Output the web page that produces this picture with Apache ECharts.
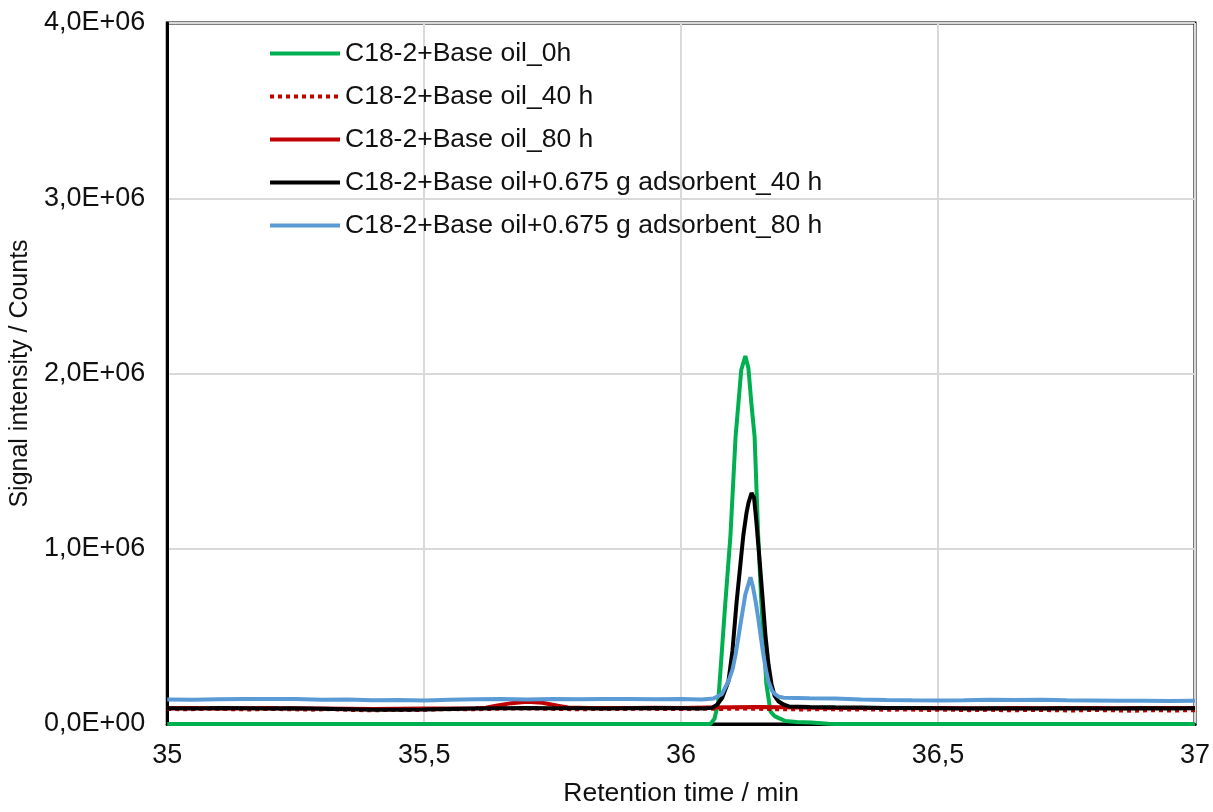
<!DOCTYPE html>
<html>
<head>
<meta charset="utf-8">
<script src="https://cdn.jsdelivr.net/npm/echarts@6/dist/echarts.min.js"></script>
<style>
html,body{margin:0;padding:0;background:#fff;}
#chart{width:1213px;height:812px;}
</style>
</head>
<body>
<div id="chart"></div>
<script>
// ---- Data (retention time in min, signal in counts) ----
const seriesNames = [
  'C18-2+Base oil_0h',
  'C18-2+Base oil_40 h',
  'C18-2+Base oil_80 h',
  'C18-2+Base oil+0.675 g adsorbent_40 h',
  'C18-2+Base oil+0.675 g adsorbent_80 h'
];

const xTicks = [35, 35.5, 36, 36.5, 37];
const yTicks = [0, 1000000, 2000000, 3000000, 4000000];

const oil0h = [
  [35.00,0],[35.50,0],[36.00,0],[36.057,0],[36.065,30000],[36.072,120000],[36.077,320000],
  [36.085,650000],[36.096,1075000],[36.106,1640000],[36.117,2020000],[36.125,2100000],
  [36.131,2030000],[36.137,1820000],[36.143,1640000],[36.150,1075000],[36.156,700000],
  [36.160,510000],[36.166,226000],[36.174,70000],[36.182,45000],[36.189,35000],
  [36.203,17000],[36.225,12000],[36.253,8000],[36.286,1000],[36.300,0],[36.50,0],[37.00,0]
];

const oil40h = [
  [35.00,86000],[35.04,84000],[35.08,87000],[35.12,85000],[35.16,83000],[35.20,86000],
  [35.24,84000],[35.28,82000],[35.32,85000],[35.36,80000],[35.40,78000],[35.44,81000],
  [35.48,79000],[35.52,83000],[35.56,85000],[35.60,84000],[35.64,87000],[35.68,89000],
  [35.72,88000],[35.76,86000],[35.80,84000],[35.84,86000],[35.88,85000],[35.92,87000],
  [35.96,86000],[36.00,85000],[36.04,87000],[36.08,86000],[36.12,88000],[36.16,86000],
  [36.20,84000],[36.24,83000],[36.28,85000],[36.32,82000],[36.36,84000],[36.40,81000],
  [36.44,83000],[36.48,80000],[36.52,82000],[36.56,79000],[36.60,81000],[36.64,78000],
  [36.68,80000],[36.72,79000],[36.76,77000],[36.80,80000],[36.84,78000],[36.88,76000],
  [36.92,79000],[36.96,77000],[37.00,79000]
];

const oil80h = [
  [35.00,90000],[35.05,91000],[35.10,89000],[35.15,90000],[35.20,91000],[35.25,89000],
  [35.30,88000],[35.35,87000],[35.40,86000],[35.45,87000],[35.50,88000],[35.55,89000],
  [35.60,90000],[35.62,93000],[35.64,104000],[35.67,119000],[35.70,127000],[35.73,121000],
  [35.76,104000],[35.78,94000],[35.82,92000],[35.86,91000],[35.90,92000],[35.95,93000],
  [36.00,92000],[36.05,94000],[36.10,96000],[36.15,97000],[36.20,95000],[36.25,93000],
  [36.30,92000],[36.35,91000],[36.40,92000],[36.45,90000],[36.50,91000],[36.55,90000],
  [36.60,89000],[36.65,91000],[36.70,90000],[36.75,92000],[36.80,91000],[36.85,90000],
  [36.90,92000],[36.95,91000],[37.00,92000]
];

const ads40h = [
  [35.00,90000],[35.05,89000],[35.10,91000],[35.15,90000],[35.20,88000],[35.25,90000],
  [35.30,87000],[35.35,84000],[35.40,81000],[35.45,82000],[35.50,83000],[35.55,86000],
  [35.60,88000],[35.65,90000],[35.70,91000],[35.75,90000],[35.80,90000],[35.85,89000],
  [35.90,90000],[35.95,91000],[36.00,90000],[36.04,89000],[36.06,92000],[36.07,110000],
  [36.08,150000],[36.092,243000],[36.100,420000],[36.108,696000],[36.115,900000],
  [36.121,1075000],[36.127,1200000],[36.131,1260000],[36.137,1318000],[36.142,1290000],
  [36.146,1170000],[36.150,1030000],[36.154,887000],[36.159,700000],[36.164,510000],
  [36.170,340000],[36.176,226000],[36.182,160000],[36.189,130000],[36.20,110000],
  [36.21,100000],[36.25,97000],[36.30,95000],[36.35,94000],[36.40,92000],[36.45,91000],
  [36.50,90000],[36.55,89000],[36.60,90000],[36.65,88000],[36.70,89000],[36.75,90000],
  [36.80,88000],[36.85,89000],[36.90,90000],[36.95,89000],[37.00,90000]
];

const ads80h = [
  [35.00,140000],[35.05,139000],[35.10,141000],[35.15,142000],[35.20,143000],[35.25,142000],
  [35.30,138000],[35.35,140000],[35.40,136000],[35.45,137000],[35.50,134000],[35.55,138000],
  [35.60,141000],[35.65,143000],[35.70,140000],[35.75,142000],[35.80,141000],[35.85,143000],
  [35.90,142000],[35.95,141000],[36.00,142000],[36.04,140000],[36.063,145000],[36.079,170000],
  [36.092,243000],[36.100,310000],[36.106,396000],[36.115,560000],[36.125,740000],
  [36.135,837000],[36.140,780000],[36.145,700000],[36.150,605000],[36.155,500000],
  [36.160,396000],[36.165,310000],[36.170,243000],[36.177,190000],[36.183,170000],
  [36.190,155000],[36.20,150000],[36.25,147000],[36.30,145000],[36.35,140000],[36.40,137000],
  [36.45,135000],[36.50,134000],[36.55,135000],[36.60,138000],[36.65,137000],[36.70,139000],
  [36.75,136000],[36.80,134000],[36.85,132000],[36.90,133000],[36.95,131000],[37.00,132000]
];

const seriesData = [oil0h, oil40h, oil80h, ads40h, ads80h];
const seriesColors = ['#00B050', '#C00000', '#C00000', '#000000', '#5B9BD5'];
const seriesTypes = ['solid', 'dotted', 'solid', 'solid', 'solid'];

// ---- Chart ----
const FONT = '"Liberation Sans", Arial, sans-serif';
const TEXT = '#111111';
const chart = echarts.init(document.getElementById('chart'), null, {renderer: 'canvas'});

function yFmt(v) {
  if (v === 0) return '0,0E+00';
  return (v / 1e6).toFixed(1).replace('.', ',') + 'E+06';
}
function xFmt(v) {
  return String(v).replace('.', ',');
}

chart.setOption({
  animation: false,
  backgroundColor: '#ffffff',
  grid: {
    left: 167, right: 15, top: 23, bottom: 82,
    show: true, borderColor: '#000000', borderWidth: 3, backgroundColor: 'transparent'
  },
  legend: {
    orient: 'vertical',
    left: 263, top: 35,
    padding: 5,
    itemWidth: 70, itemHeight: 2, itemGap: 16,
    itemStyle: {opacity: 0},
    lineStyle: {width: 4},
    textStyle: {fontFamily: FONT, fontSize: 26.5, color: TEXT},
    data: seriesNames
  },
  xAxis: {
    type: 'value',
    min: xTicks[0], max: xTicks[xTicks.length - 1], interval: 0.5,
    name: 'Retention time / min',
    nameLocation: 'middle', nameGap: 56,
    nameTextStyle: {fontFamily: FONT, fontSize: 26.5, color: TEXT},
    axisLine: {show: true, lineStyle: {color: '#000000', width: 3}},
    axisTick: {show: false},
    axisLabel: {fontFamily: FONT, fontSize: 27, color: TEXT, margin: 18, formatter: xFmt},
    splitLine: {show: true, lineStyle: {color: '#D9D9D9', width: 2}}
  },
  yAxis: {
    type: 'value',
    min: yTicks[0], max: yTicks[yTicks.length - 1], interval: 1000000,
    name: 'Signal intensity / Counts',
    nameLocation: 'middle', nameGap: 127,
    nameTextStyle: {fontFamily: FONT, fontSize: 25, color: TEXT},
    axisLine: {show: true, lineStyle: {color: '#000000', width: 3}},
    axisTick: {show: false},
    axisLabel: {fontFamily: FONT, fontSize: 27, color: TEXT, margin: 22, formatter: yFmt},
    splitLine: {show: true, lineStyle: {color: '#D9D9D9', width: 2}}
  },
  series: seriesNames.map((name, i) => ({
    name: name,
    type: 'line',
    data: seriesData[i],
    showSymbol: false,
    symbol: 'none',
    smooth: false,
    color: seriesColors[i],
    lineStyle: {color: seriesColors[i], width: 4, type: seriesTypes[i]},
    z: 2 + i
  }))
});
</script>
</body>
</html>
